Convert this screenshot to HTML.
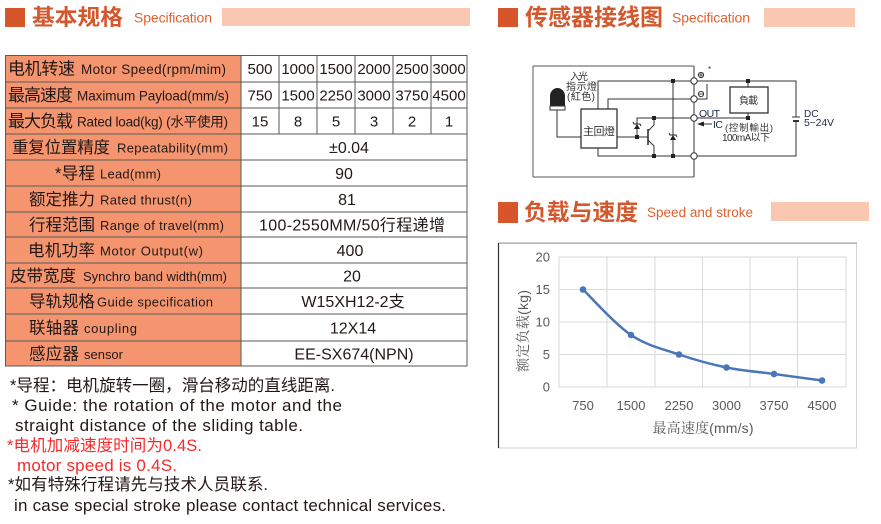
<!DOCTYPE html>
<html><head><meta charset="utf-8">
<style>
html,body{margin:0;padding:0;background:#fff;}
body{width:881px;height:524px;overflow:hidden;}
svg{display:block;font-family:"Liberation Sans","Noto Sans CJK SC",sans-serif;}
</style></head>
<body>
<svg width="881" height="524" viewBox="0 0 881 524" xmlns="http://www.w3.org/2000/svg">
<!-- ===== Headers ===== -->
<rect x="5" y="8" width="20" height="19" fill="#D6552B"/>
<text x="32" y="25" font-size="22" font-weight="bold" fill="#D4582D" textLength="91" lengthAdjust="spacingAndGlyphs">基本规格</text>
<text x="134" y="22.5" font-size="14" fill="#E0602E" textLength="78">Specification</text>
<rect x="222" y="8" width="248" height="18" fill="#FAC8B1"/>

<rect x="498" y="8" width="20" height="19" fill="#D6552B"/>
<text x="525" y="25" font-size="23" font-weight="bold" fill="#D4582D" textLength="138" lengthAdjust="spacingAndGlyphs">传感器接线图</text>
<text x="672" y="22.5" font-size="14" fill="#E0602E" textLength="78">Specification</text>
<rect x="764" y="8" width="91" height="19" fill="#FAC8B1"/>

<rect x="498" y="202" width="20" height="21" fill="#D6552B"/>
<text x="524" y="220" font-size="23" font-weight="bold" fill="#D4582D" textLength="114" lengthAdjust="spacingAndGlyphs">负载与速度</text>
<text x="647" y="217" font-size="13.5" fill="#E0602E" textLength="106">Speed and stroke</text>
<rect x="771" y="202" width="98" height="19" fill="#FAC8B1"/>

<!-- ===== Table ===== -->
<rect x="5" y="55" width="236" height="311" fill="#F4956F"/>
<g stroke="#5a5a5a" stroke-width="1" fill="none">
  <rect x="5.5" y="55.5" width="461.5" height="310.5"/>
  <line x1="241" y1="55" x2="241" y2="366"/>
  <line x1="5" y1="82" x2="467" y2="82"/>
  <line x1="5" y1="108" x2="467" y2="108"/>
  <line x1="5" y1="134" x2="467" y2="134"/>
  <line x1="5" y1="160" x2="467" y2="160"/>
  <line x1="5" y1="186" x2="467" y2="186"/>
  <line x1="5" y1="212" x2="467" y2="212"/>
  <line x1="5" y1="237" x2="467" y2="237"/>
  <line x1="5" y1="263" x2="467" y2="263"/>
  <line x1="5" y1="288" x2="467" y2="288"/>
  <line x1="5" y1="314" x2="467" y2="314"/>
  <line x1="5" y1="341" x2="467" y2="341"/>
  <line x1="279" y1="55" x2="279" y2="134"/>
  <line x1="317" y1="55" x2="317" y2="134"/>
  <line x1="355" y1="55" x2="355" y2="134"/>
  <line x1="393" y1="55" x2="393" y2="134"/>
  <line x1="431" y1="55" x2="431" y2="134"/>
</g>
<g fill="#231815">
  <text x="8" y="74.5" font-size="17" textLength="67">电机转速</text>
  <text x="81" y="74" font-size="13.5" textLength="145">Motor Speed(rpm/mim)</text>
  <text x="8" y="101" font-size="17" textLength="65">最高速度</text>
  <text x="77" y="100.5" font-size="13.5" textLength="152">Maximum Payload(mm/s)</text>
  <text x="8" y="127" font-size="17" textLength="65">最大负载</text>
  <text x="77" y="126.5" font-size="13.5" textLength="151">Rated load(kg) (水平使用)</text>
  <text x="12" y="153" font-size="16.5" textLength="98">重复位置精度</text>
  <text x="117" y="152.5" font-size="13" textLength="111">Repeatability(mm)</text>
  <text x="55" y="179" font-size="16.5" textLength="40">*导程</text>
  <text x="100" y="178.5" font-size="13" textLength="61">Lead(mm)</text>
  <text x="29" y="205" font-size="16.5" textLength="66">额定推力</text>
  <text x="100" y="204.5" font-size="13" textLength="92">Rated thrust(n)</text>
  <text x="29" y="230.5" font-size="16.5" textLength="66">行程范围</text>
  <text x="100" y="230" font-size="13" textLength="124">Range of travel(mm)</text>
  <text x="28" y="256" font-size="16.5" textLength="67">电机功率</text>
  <text x="100" y="255.5" font-size="13" textLength="103">Motor Output(w)</text>
  <text x="10" y="281.5" font-size="16.5" textLength="66">皮带宽度</text>
  <text x="83" y="281" font-size="13" textLength="144">Synchro band width(mm)</text>
  <text x="29" y="307" font-size="16.5" textLength="66">导轨规格</text>
  <text x="97" y="306.5" font-size="13" textLength="116">Guide specification</text>
  <text x="29" y="333.5" font-size="16.5" textLength="50">联轴器</text>
  <text x="84" y="333" font-size="13" textLength="53">coupling</text>
  <text x="29" y="359.5" font-size="16.5" textLength="50">感应器</text>
  <text x="84" y="359" font-size="13" textLength="39">sensor</text>
</g>
<g fill="#231815" font-size="15" text-anchor="middle">
  <text x="260" y="74">500</text><text x="298" y="74">1000</text><text x="336" y="74">1500</text>
  <text x="374" y="74">2000</text><text x="412" y="74">2500</text><text x="449" y="74">3000</text>
  <text x="260" y="100.5">750</text><text x="298" y="100.5">1500</text><text x="336" y="100.5">2250</text>
  <text x="374" y="100.5">3000</text><text x="412" y="100.5">3750</text><text x="449" y="100.5">4500</text>
  <text x="260" y="126.5">15</text><text x="298" y="126.5">8</text><text x="336" y="126.5">5</text>
  <text x="374" y="126.5">3</text><text x="412" y="126.5">2</text><text x="449" y="126.5">1</text>
</g>
<g fill="#231815" font-size="16" text-anchor="middle">
  <text x="349" y="153">±0.04</text>
  <text x="344" y="179">90</text>
  <text x="347" y="205">81</text>
  <text x="352" y="230.5" textLength="186">100-2550MM/50行程递增</text>
  <text x="350" y="256">400</text>
  <text x="352" y="281.5">20</text>
  <text x="353" y="307">W15XH12-2支</text>
  <text x="353" y="333.5">12X14</text>
  <text x="354" y="359.5">EE-SX674(NPN)</text>
</g>

<!-- ===== Notes ===== -->
<g font-size="16.5" fill="#231815">
  <text x="10" y="391" textLength="325">*导程：电机旋转一圈，滑台移动的直线距离.</text>
  <text x="12" y="411" font-size="17" textLength="330">* Guide: the rotation of the motor and the</text>
  <text x="15" y="431" font-size="17" textLength="288">straight distance of the sliding table.</text>
  <text x="7" y="451" fill="#F42B2B" textLength="195">*电机加减速度时间为0.4S.</text>
  <text x="17" y="471" font-size="17" fill="#F42B2B" textLength="160">motor speed is 0.4S.</text>
  <text x="8" y="490" textLength="260">*如有特殊行程请先与技术人员联系.</text>
  <text x="14" y="511" font-size="17" textLength="432">in case special stroke please contact technical services.</text>
</g>

<!-- ===== Circuit ===== -->
<g stroke="#333" stroke-width="1" fill="none">
  <line x1="533" y1="66" x2="694" y2="66" stroke="#555"/>
  <line x1="533" y1="66" x2="533" y2="177" stroke="#555"/>
  <line x1="533" y1="177" x2="694" y2="177" stroke="#555"/>
  <line x1="694" y1="66" x2="694" y2="177"/>
  <polyline points="598,109 598,81 796,81 796,117"/>
  <polyline points="796,121 796,156 598,156 598,148"/>
  <polyline points="608,109 608,99 694,99"/>
  <polyline points="694,99 707,99 707,84"/>
  <line x1="673" y1="81" x2="673" y2="156"/>
  <polyline points="637,137 637,118 694,118 748,118 748,113"/>
  <line x1="748" y1="81" x2="748" y2="87"/>
  <rect x="730" y="87" width="38" height="26" stroke-width="1.3"/>
  <rect x="581" y="109" width="36" height="39" stroke-width="1.3"/>
  <polyline points="557,110 557,137 581,137"/>
  <line x1="617" y1="137" x2="648" y2="137"/>
  <line x1="648" y1="129" x2="648" y2="145" stroke-width="1.6"/>
  <polyline points="654,118 654,125 648,131"/>
  <polyline points="648,140 654,146 654,156"/>
  <line x1="792" y1="117" x2="800" y2="117"/>
  <line x1="793" y1="121" x2="799" y2="121" stroke-width="2"/>
  <line x1="701" y1="124" x2="712" y2="124"/>
</g>
<g fill="#222">
  <polygon points="634,129 640,129 637,124"/>
  <polyline points="633,122 634,124 640,124 641,126" fill="none" stroke="#222" stroke-width="1"/>
  <polygon points="670,140 676,140 673,135"/>
  <polyline points="669,133 670,135 676,135 677,137" fill="none" stroke="#222" stroke-width="1"/>
  <rect x="671" y="79" width="4" height="4"/><rect x="671" y="154" width="4" height="4"/>
  <rect x="652" y="116" width="4" height="4"/><rect x="652" y="154" width="4" height="4"/>
  <rect x="635" y="135" width="4" height="4"/>
  <rect x="746" y="79" width="4" height="4"/><rect x="746" y="116" width="4" height="4"/>
  <polygon points="697,124 704,121.5 704,126.5"/>
  <path d="M550,106 L550,96 A7.5,8 0 0 1 565,96 L565,106 Z"/>
</g>
<rect x="550" y="106" width="15" height="4" fill="#fff" stroke="#333" stroke-width="1"/>
<g fill="#fff" stroke="#333" stroke-width="1">
  <circle cx="694" cy="81" r="3.2"/><circle cx="694" cy="99" r="3.2"/>
  <circle cx="694" cy="118" r="3.2"/><circle cx="694" cy="156" r="3.2"/>
  <circle cx="701" cy="75" r="2.6"/><circle cx="701" cy="94" r="2.6"/>
</g>
<g stroke="#333" stroke-width="0.8">
  <line x1="699" y1="75" x2="703" y2="75"/><line x1="701" y1="73" x2="701" y2="77"/>
  <line x1="699" y1="94" x2="703" y2="94"/>
</g>
<g fill="#333" font-size="10">
  <text x="708" y="72" font-size="8">*</text>
  <text x="570" y="80" textLength="18">入光</text>
  <text x="566" y="90" textLength="31">指示燈</text>
  <text x="567" y="100" textLength="28">(紅色)</text>
  <text x="583" y="135" font-size="11" textLength="32">主回燈</text>
  <text x="739" y="104" textLength="19">負載</text>
  <text x="725" y="131" font-size="9.5" textLength="48">(控制輸出)</text>
  <text x="722" y="141" textLength="48">100mA以下</text>
</g>
<g fill="#1b2a4a" font-size="10.5">
  <text x="699" y="117" textLength="21">OUT</text>
  <text x="713" y="128" textLength="10">IC</text>
  <text x="804" y="117" font-size="10">DC</text>
  <text x="804" y="126" textLength="30">5~24V</text>
</g>

<!-- ===== Chart ===== -->
<rect x="498.5" y="243.5" width="358" height="204.5" fill="#fff" stroke="#d4d4d4"/>
<line x1="498.5" y1="243" x2="857" y2="243" stroke="#9a9a9a"/>
<line x1="498.5" y1="243" x2="498.5" y2="448" stroke="#333" stroke-width="1.2"/>
<g stroke="#d9d9d9" stroke-width="1">
  <line x1="559" y1="257" x2="846" y2="257"/>
  <line x1="559" y1="289.5" x2="846" y2="289.5"/>
  <line x1="559" y1="322" x2="846" y2="322"/>
  <line x1="559" y1="354.5" x2="846" y2="354.5"/>
  <line x1="559" y1="387" x2="846" y2="387"/>
  <line x1="559" y1="257" x2="559" y2="387"/>
  <line x1="607" y1="257" x2="607" y2="387"/>
  <line x1="655" y1="257" x2="655" y2="387"/>
  <line x1="702.5" y1="257" x2="702.5" y2="387"/>
  <line x1="750" y1="257" x2="750" y2="387"/>
  <line x1="797.5" y1="257" x2="797.5" y2="387"/>
  <line x1="846" y1="257" x2="846" y2="387"/>
</g>
<g fill="#595959" font-size="13" text-anchor="end">
  <text x="550" y="261.5">20</text>
  <text x="550" y="294">15</text>
  <text x="550" y="326.5">10</text>
  <text x="550" y="359">5</text>
  <text x="550" y="391.5">0</text>
</g>
<g fill="#595959" font-size="13" text-anchor="middle">
  <text x="583" y="410">750</text>
  <text x="631" y="410">1500</text>
  <text x="679" y="410">2250</text>
  <text x="726.5" y="410">3000</text>
  <text x="774" y="410">3750</text>
  <text x="822" y="410">4500</text>
</g>
<text x="703" y="433" fill="#595959" font-size="14" text-anchor="middle" font-family="'Liberation Sans','Noto Serif CJK SC',serif" textLength="101">最高速度(mm/s)</text>
<text transform="translate(528,331) rotate(-90)" fill="#595959" font-size="14" text-anchor="middle" font-family="'Liberation Sans','Noto Serif CJK SC',serif" textLength="82">额定负载(kg)</text>
<path d="M583,289.5 C591,297.1 615,324.2 631,335 C647,345.8 663.1,349.1 679,354.5 C694.9,359.9 710.7,364.25 726.5,367.5 C742.3,370.75 758.1,371.8 774,374 C789.9,376.2 814,379.4 822,380.5" fill="none" stroke="#4A76B9" stroke-width="2.5" stroke-linejoin="round"/>
<g fill="#4A76B9">
  <circle cx="583" cy="289.5" r="3.3"/><circle cx="631" cy="335" r="3.3"/>
  <circle cx="679" cy="354.5" r="3.3"/><circle cx="726.5" cy="367.5" r="3.3"/>
  <circle cx="774" cy="374" r="3.3"/><circle cx="822" cy="380.5" r="3.3"/>
</g>
</svg>
</body></html>
